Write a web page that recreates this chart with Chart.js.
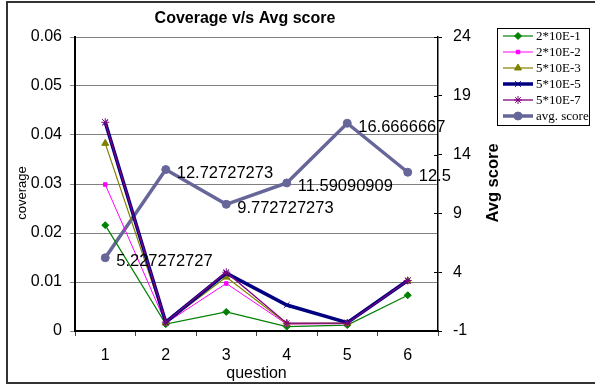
<!DOCTYPE html>
<html>
<head>
<meta charset="utf-8">
<title>Coverage v/s Avg score</title>
<script src="https://cdn.jsdelivr.net/npm/chart.js@4.4.0/dist/chart.umd.min.js"></script>
<style>
    html, body { margin: 0; padding: 0; background: #fff; }
    #wrap { width: 595px; height: 385px; }
</style>
</head>
<body>
<div id="wrap"><canvas id="chart" width="595" height="385"></canvas></div>
<script>
// Chart data
const questions = ['1', '2', '3', '4', '5', '6'];
const cov2e1 = [0.0216, 0.0014, 0.0039, 0.0009, 0.0012, 0.0073];
const cov2e2 = [0.0299, 0.0016, 0.0097, 0.0014, 0.0015, 0.0101];
const cov5e3 = [0.0383, 0.0017, 0.0110, 0.0015, 0.0016, 0.0102];
const cov5e5 = [0.0426, 0.0018, 0.0118, 0.0053, 0.0017, 0.0103];
const cov5e7 = [0.0426, 0.0018, 0.0120, 0.0016, 0.0016, 0.0103];
const avgScore = [5.227272727, 12.72727273, 9.772727273, 11.59090909, 16.6666667, 12.5];
const coverageTicks = ['0', '0.01', '0.02', '0.03', '0.04', '0.05', '0.06'];
const scoreTicks = ['-1', '4', '9', '14', '19', '24'];

const chartTitle = 'Coverage v/s Avg score';
const SANS = '"Liberation Sans", Arial, sans-serif';
const SERIF = '"Liberation Serif", "Times New Roman", serif';

Chart.defaults.font.family = SANS;
Chart.defaults.color = '#000';

function series(label, data, color, style, radius, width, order) {
    return {
        label: label,
        data: data,
        borderColor: color,
        backgroundColor: color,
        pointBackgroundColor: color,
        pointBorderColor: color,
        pointStyle: style,
        pointRadius: radius,
        pointBorderWidth: 1,
        borderWidth: width,
        tension: 0,
        yAxisID: 'y',
        order: order
    };
}

const datasets = [
    series('2*10E-1', cov2e1, '#008000', 'rectRot', 3.5, 1.2, 4),
    series('2*10E-2', cov2e2, '#ff00ff', 'rect', 2.5, 1, 3),
    series('5*10E-3', cov5e3, '#808000', 'triangle', 4, 1.2, 2),
    series('5*10E-5', cov5e5, '#000080', 'crossRot', 4, 3.5, 1),
    series('5*10E-7', cov5e7, '#800080', 'star', 4, 1.3, 0)
];
const avgSet = series('avg. score', avgScore, '#666699', 'circle', 4, 3.5, 5);
avgSet.yAxisID = 'y2';
datasets.push(avgSet);

// Extra drawing: frame, titles, legend, labels
const decorPlugin = {
    id: 'decor',
    afterDraw(chart) {
        const ctx = chart.ctx;
        const area = chart.chartArea;
        ctx.save();

        ctx.strokeStyle = '#333';
        ctx.lineWidth = 2;
        ctx.strokeRect(7, 2, 600, 381);

        ctx.fillStyle = '#000';
        ctx.textAlign = 'center';
        ctx.textBaseline = 'middle';
        ctx.font = 'bold 16px ' + SANS;
        ctx.fillText(chartTitle, 245, 19);

        ctx.save();
        ctx.translate(493, 183);
        ctx.rotate(-Math.PI / 2);
        ctx.font = 'bold 16.5px ' + SANS;
        ctx.fillText('Avg score', 0, 0);
        ctx.restore();

        ctx.save();
        ctx.translate(22, 193);
        ctx.rotate(-Math.PI / 2);
        ctx.font = '13px ' + SANS;
        ctx.fillText('coverage', 0, 0);
        ctx.restore();

        // inner half of right axis ticks
        const y2 = chart.scales.y2;
        ctx.strokeStyle = '#000';
        ctx.lineWidth = 1;
        y2.ticks.forEach(t => {
            const py = Math.round(y2.getPixelForValue(t.value)) + 0.5;
            ctx.beginPath();
            ctx.moveTo(area.right - 4, py);
            ctx.lineTo(area.right, py);
            ctx.stroke();
        });

        // value labels on avg score
        const meta = chart.getDatasetMeta(5);
        ctx.textAlign = 'left';
        ctx.font = '16.5px ' + SANS;
        meta.data.forEach((pt, i) => {
            ctx.fillText(String(avgScore[i]), pt.x + 11, pt.y + 4);
        });

        // legend
        ctx.fillStyle = '#fff';
        ctx.fillRect(497, 28, 93, 98);
        ctx.strokeStyle = '#000';
        ctx.lineWidth = 1;
        ctx.strokeRect(497.5, 28.5, 92, 97);
        ctx.font = '13px ' + SERIF;
        chart.data.datasets.forEach((ds, i) => {
            const y = 36 + i * 16;
            ctx.strokeStyle = ds.borderColor;
            ctx.fillStyle = ds.borderColor;
            ctx.lineWidth = ds.borderWidth;
            ctx.beginPath();
            ctx.moveTo(503, y);
            ctx.lineTo(533, y);
            ctx.stroke();
            ctx.lineWidth = 1;
            Chart.helpers.drawPoint(ctx, {
                pointStyle: ds.pointStyle,
                radius: ds.pointRadius,
                borderWidth: 1,
                rotation: 0
            }, 518, y);
            ctx.fillStyle = '#000';
            ctx.textAlign = 'left';
            ctx.fillText(ds.label, 536, y + 1);
        });

        ctx.restore();
    }
};

new Chart(document.getElementById('chart'), {
    type: 'line',
    data: { labels: questions, datasets: datasets },
    options: {
        responsive: false,
        animation: false,
        layout: { padding: { top: 37, left: 0, right: 0, bottom: 0 } },
        plugins: {
            legend: { display: false },
            title: { display: false },
            tooltip: { enabled: false }
        },
        scales: {
            x: {
                offset: true,
                afterFit(scale) { scale.height = 54; },
                grid: {
                    offset: true,
                    drawOnChartArea: false,
                    tickLength: 5,
                    color: '#444'
                },
                border: { color: '#000', width: 2 },
                ticks: { font: { size: 16 }, padding: 10, color: '#000' },
                title: {
                    display: true,
                    text: 'question',
                    font: { size: 16 },
                    padding: { top: 0, bottom: 2 }
                }
            },
            y: {
                position: 'left',
                min: 0,
                max: 0.06,
                afterFit(scale) { scale.width = 75; },
                ticks: {
                    stepSize: 0.01,
                    font: { size: 16 },
                    padding: 8,
                    callback: (v, i) => coverageTicks[i]
                },
                grid: { color: '#808080', tickLength: 5, tickColor: '#888' },
                border: { color: '#000', width: 2 }
            },
            y2: {
                position: 'right',
                min: -1,
                max: 24,
                afterFit(scale) { scale.width = 157; },
                ticks: {
                    stepSize: 5,
                    font: { size: 16 },
                    padding: 11,
                    callback: (v, i) => scoreTicks[i]
                },
                grid: { drawOnChartArea: false, tickLength: 4, color: '#000' },
                border: { color: '#000', width: 1.5 }
            }
        }
    },
    plugins: [decorPlugin]
});
</script>
</body>
</html>
